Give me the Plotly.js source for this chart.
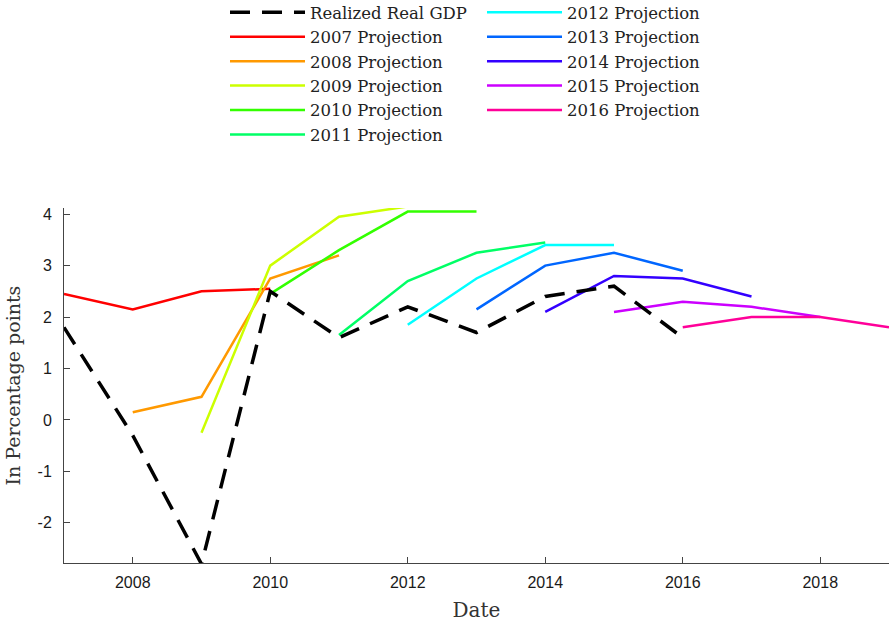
<!DOCTYPE html>
<html>
<head>
<meta charset="utf-8">
<script src="https://cdn.plot.ly/plotly-3.0.1.min.js"></script>
<style>
html,body{margin:0;padding:0;background:#fff;}
#chart{width:890px;height:626px;}
</style>
</head>
<body>
<div id="chart"></div>
<script>
// ---- data ----
var realizedYears = [2007, 2008, 2009, 2010, 2011, 2012, 2013, 2014, 2015, 2016];
var realizedGDP   = [1.8, -0.3, -2.8, 2.5, 1.6, 2.2, 1.7, 2.4, 2.6, 1.6];

var proj2007Years = [2007, 2008, 2009, 2010];
var proj2007 = [2.45, 2.15, 2.5, 2.55];
var proj2008Years = [2008, 2009, 2010, 2011];
var proj2008 = [0.15, 0.45, 2.75, 3.2];
var proj2009Years = [2009, 2010, 2011, 2012];
var proj2009 = [-0.25, 3.0, 3.95, 4.15];
var proj2010Years = [2010, 2011, 2012, 2013];
var proj2010 = [2.45, 3.3, 4.05, 4.05];
var proj2011Years = [2011, 2012, 2013, 2014];
var proj2011 = [1.65, 2.7, 3.25, 3.45];
var proj2012Years = [2012, 2013, 2014, 2015];
var proj2012 = [1.85, 2.75, 3.4, 3.4];
var proj2013Years = [2013, 2014, 2015, 2016];
var proj2013 = [2.15, 3.0, 3.25, 2.9];
var proj2014Years = [2014, 2015, 2016, 2017];
var proj2014 = [2.1, 2.8, 2.75, 2.4];
var proj2015Years = [2015, 2016, 2017, 2018];
var proj2015 = [2.1, 2.3, 2.2, 2.0];
var proj2016Years = [2016, 2017, 2018, 2019];
var proj2016 = [1.8, 2.0, 2.0, 1.8];

var projNames = ['2007 Projection','2008 Projection','2009 Projection','2010 Projection','2011 Projection',
                 '2012 Projection','2013 Projection','2014 Projection','2015 Projection','2016 Projection'];
var projColors = ['#ff0000','#ff9900','#ccff00','#33ff00','#00ff66',
                  '#00ffff','#0066ff','#3300ff','#cc00ff','#ff0099'];
var xTickVals = [2008, 2010, 2012, 2014, 2016, 2018];
var yTickVals = [-2, -1, 0, 1, 2, 3, 4];
var yTickText = ['-2', '-1', '0', '1', '2', '3', '4'];
var xTitle = 'Date';
var yTitle = 'In Percentage points';

// ---- traces ----
var projX = [proj2007Years, proj2008Years, proj2009Years, proj2010Years, proj2011Years,
             proj2012Years, proj2013Years, proj2014Years, proj2015Years, proj2016Years];
var projY = [proj2007, proj2008, proj2009, proj2010, proj2011,
             proj2012, proj2013, proj2014, proj2015, proj2016];

var traces = [];
for (var i = 0; i < projNames.length; i++) {
  traces.push({
    type: 'scatter', mode: 'lines',
    x: projX[i], y: projY[i], name: projNames[i],
    line: {color: projColors[i], width: 2.5},
    legend: i < 5 ? 'legend' : 'legend2',
    hoverinfo: 'skip'
  });
}
traces.push({
  type: 'scatter', mode: 'lines',
  x: realizedYears, y: realizedGDP, name: 'Realized Real GDP',
  line: {color: '#000000', width: 3.5, dash: '20px,12px'},
  legend: 'legend', legendrank: 1,
  hoverinfo: 'skip'
});

var serif = '"DejaVu Serif", "Liberation Serif", serif';
var sans = '"Liberation Sans", Arial, sans-serif';

var legendCommon = {
  xref: 'container', yref: 'paper',
  xanchor: 'left', yanchor: 'top',
  bgcolor: 'rgba(0,0,0,0)',
  font: {family: serif, size: 16.5, color: '#222'},
  itemwidth: 75,
  traceorder: 'normal',
  tracegroupgap: 0
};

var layout = {
  width: 890, height: 626,
  paper_bgcolor: '#ffffff', plot_bgcolor: '#ffffff',
  margin: {l: 64, r: 1, t: 208, b: 63, autoexpand: false},
  showlegend: true,
  legend: Object.assign({}, legendCommon, {x: 225/890, y: 568/355}),
  legend2: Object.assign({}, legendCommon, {x: 482/890, y: 568/355}),
  xaxis: {
    range: [2007, 2019],
    tickvals: xTickVals,
    ticks: 'inside', ticklen: 6, tickwidth: 1, tickcolor: '#444',
    showline: true, linecolor: '#444', linewidth: 1,
    showgrid: false, zeroline: false,
    tickfont: {family: sans, size: 16, color: '#1a1a1a'},
    ticklabelstandoff: 5,
    automargin: false,
    title: {text: xTitle, font: {family: serif, size: 20, color: '#333'}, standoff: 12}
  },
  yaxis: {
    range: [-2.78, 4.12],
    tickvals: yTickVals,
    ticktext: yTickText,
    ticks: 'inside', ticklen: 6, tickwidth: 1, tickcolor: '#444',
    showline: true, linecolor: '#444', linewidth: 1,
    showgrid: false, zeroline: false,
    tickfont: {family: sans, size: 16, color: '#1a1a1a'},
    ticklabelstandoff: 8,
    automargin: false
  },
  annotations: [{
    text: yTitle, textangle: -90,
    xref: 'paper', yref: 'paper', x: -52/825, y: 0.5,
    xanchor: 'center', yanchor: 'middle', showarrow: false,
    font: {family: serif, size: 19, color: '#333'}
  }]
};

Plotly.newPlot('chart', traces, layout, {displayModeBar: false, staticPlot: true});
</script>
</body>
</html>
